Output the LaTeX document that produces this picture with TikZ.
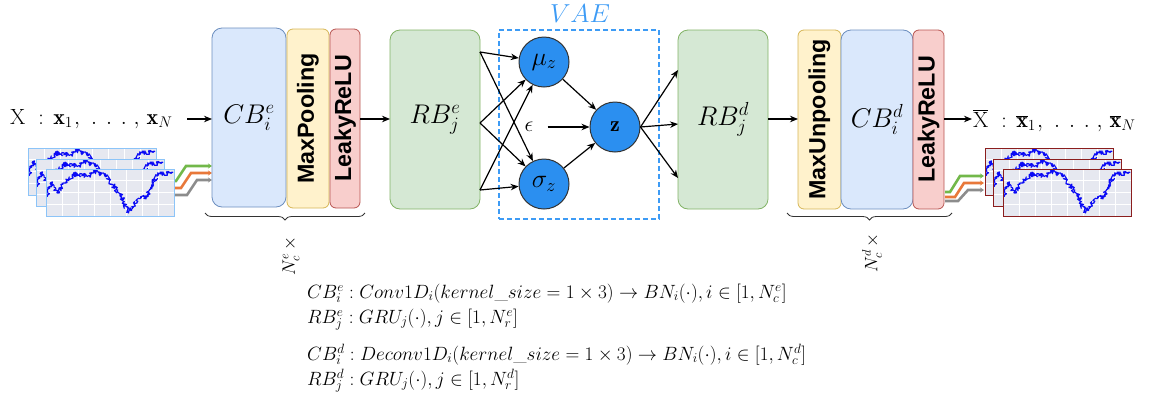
\RequirePackage{fix-cm}
\documentclass[tikz,border=0pt]{standalone}
\usepackage{fontspec}
\newfontfamily\arial{Liberation Sans}
\usetikzlibrary{arrows.meta,decorations.pathreplacing,decorations.pathmorphing,calc}
\definecolor{cbfill}{HTML}{DAE8FC}\definecolor{cbdraw}{HTML}{6C8EBF}
\definecolor{ylfill}{HTML}{FFF2CC}\definecolor{yldraw}{HTML}{D6B656}
\definecolor{rdfill}{HTML}{F8CECC}\definecolor{rddraw}{HTML}{B85450}
\definecolor{gnfill}{HTML}{D5E8D4}\definecolor{gndraw}{HTML}{82B366}
\definecolor{circfill}{HTML}{2B8FF0}\definecolor{circdraw}{HTML}{333333}
\definecolor{vaeblue}{HTML}{3D9BF5}
\definecolor{tsbg}{HTML}{E6E8F0}\definecolor{tsblue}{HTML}{0A0AF5}
\definecolor{lborder}{HTML}{8CC4F8}\definecolor{rborder}{HTML}{8B1E1E}
\definecolor{cgreen}{HTML}{72B84A}\definecolor{corange}{HTML}{E8783A}\definecolor{cgray}{HTML}{8C8C8C}
\newcommand{\seqlabel}[1]{#1{\mathrm{X}}\mkern10.6mu{:}\mkern7.7mu#1{\mathbf{x}}_1\mkern1mu{,}\mkern9mu.\mkern7.3mu.\mkern7.3mu.\mkern5.6mu{,}\mkern5.6mu#1{\mathbf{x}}_N}
\newcommand{\plainarg}[1]{#1}
\newcommand{\tsimg}[3]{%
 \begin{scope}[shift={(#1,#2)}]
   \fill[tsbg] (0,0) rectangle (128,47);
   \begin{scope}
   \clip (0,0) rectangle (128,47);
   \foreach \i in {16,32,...,112} \draw[white, line width=0.6pt] (\i,0) -- (\i,47);
   \foreach \j in {11.75,23.5,35.25} \draw[white, line width=0.6pt] (0,\j) -- (128,\j);
   \pgfmathsetseed{11}
   \draw[tsblue, line width=1.1pt, line join=round, decorate, decoration={random steps, segment length=0.8pt, amplitude=2.3pt}]
     (1.3,27.7) -- (5.1,14.1) -- (11.5,24.0) -- (20.5,10.8) -- (30.7,4.2) -- (41.0,7.5) -- (49.9,2.4) -- (60.2,7.5) -- (70.4,20.7) -- (75.5,27.7) -- (81.9,42.3) -- (87.0,37.6) -- (94.7,27.7) -- (101.1,27.7) -- (106.2,14.1) -- (111.4,5.6) -- (117.8,4.2) -- (126.7,3.8);
   \end{scope}
   \draw[#3, line width=0.9pt] (0,0) rectangle (128,47);
 \end{scope}}
\begin{document}
\begin{tikzpicture}[x=1pt,y=-1pt,
  arr/.style={-{Stealth[length=8pt,width=6.5pt]}, line width=1.2pt},
  blk/.style={draw, rounded corners=10pt, line width=0.8pt, inner sep=0pt, outer sep=0pt, minimum height=179pt},
  thin/.style={blk, rounded corners=6pt},
  vlabel/.style={rotate=90, font=\arial\bfseries\fontsize{23.3}{25}\selectfont},
  mlabel/.style={font=\fontsize{27}{30}\selectfont},
  circ/.style={circle, draw=circdraw, fill=circfill, line width=1pt, minimum size=50pt, inner sep=0pt},
  cline/.style={line width=2.6pt},
  tip/.style={-{Stealth[length=4pt,width=5pt]}},
  brc/.style={decorate, decoration={brace, amplitude=7pt, mirror}, draw=black!80, line width=0.8pt},
  formula/.style={anchor=base west, inner sep=0pt, font=\fontsize{19.2}{22}\selectfont}
]
\useasboundingbox (0,0) rectangle (1153,405);

% coloured feature lines
\draw[cline, cgray, tip] (173,195) -- (187,195) -- (197,180) -- (212,180);
\draw[cline, corange, tip] (173,188) -- (181,188) -- (191,173) -- (212,173);
\draw[cline, cgreen, tip] (173,181) -- (176,181) -- (186,166) -- (212,166);
\draw[cline, cgray, tip] (945,201) -- (958,201) -- (968,190) -- (984,190);
\draw[cline, corange, tip] (945,197) -- (955,197) -- (964,183) -- (984,183);
\draw[cline, cgreen, tip] (945,192) -- (950,192) -- (960,176) -- (984,176);

% input / output series
\tsimg{28}{148}{lborder}
\tsimg{36}{159}{lborder}
\tsimg{46}{169}{lborder}
\tsimg{985}{148}{rborder}
\tsimg{993}{159}{rborder}
\tsimg{1003}{169}{rborder}

% encoder blocks
\node[blk, fill=cbfill, draw=cbdraw, minimum width=74pt, mlabel] (cbe) at (249,117.5) {$CB_i^e$};
\node[thin, fill=ylfill, draw=yldraw, minimum width=42pt] (mp) at (308,118.5) {};
\node[vlabel] at (mp) {MaxPooling};
\node[thin, fill=rdfill, draw=rddraw, minimum width=30pt] (lre) at (345,118.5) {};
\node[vlabel] at (lre) {LeakyReLU};
\node[blk, fill=gnfill, draw=gndraw, minimum width=90pt, mlabel] (rbe) at (435,119.5) {$RB_j^e$};

% VAE
\node[draw=vaeblue, dashed, dash pattern=on 5pt off 3pt, line width=1.1pt, minimum width=160pt, minimum height=189pt, inner sep=0pt] (vae) at (579,124.5) {};
\node[text=vaeblue, font=\fontsize{26}{30}\selectfont] (vaelbl) at (580,14) {$VAE$};
\node[circ, font=\fontsize{26}{30}\selectfont] (mu) at (544,62) {$\mu_z$};
\node[circ, font=\fontsize{26}{30}\selectfont] (sig) at (544,184) {$\sigma_z$};
\node[circ, font=\fontsize{22}{26}\selectfont] (z) at (615,127) {$\mathbf{z}$};
\node[font=\fontsize{22}{26}\selectfont, inner sep=1pt] (eps) at (529,127) {$\epsilon$};

% decoder blocks
\node[blk, fill=gnfill, draw=gndraw, minimum width=90pt, mlabel] (rbd) at (723,119.5) {$RB_j^d$};
\node[thin, fill=ylfill, draw=yldraw, minimum width=43pt] (mup) at (819.5,119.5) {};
\node[vlabel] at (mup) {MaxUnpooling};
\node[blk, fill=cbfill, draw=cbdraw, minimum width=72pt, mlabel] (cbd) at (877,119.5) {$CB_i^d$};
\node[thin, fill=rdfill, draw=rddraw, minimum width=31pt] (lrd) at (928.5,119.5) {};
\node[vlabel] at (lrd) {LeakyReLU};

% input/output labels
\node[anchor=base west, inner sep=0pt, font=\fontsize{22}{26}\selectfont] (xin) at (10,124) {$\seqlabel{\plainarg}$};
\node[anchor=base west, inner sep=0pt, font=\fontsize{22}{26}\selectfont] (xout) at (973,127) {$\seqlabel{\overline}$};

% main arrows
\coordinate (xa) at (187,119);
\draw[arr] (xa) -- (xa -| cbe.west);
\coordinate (ea) at (360,119);
\draw[arr] (ea) -- (ea -| rbe.west);
\coordinate (da) at (768,119);
\draw[arr] (da) -- (da -| mup.west);
\coordinate (db) at (944,119);
\coordinate (xb) at (972,119);
\draw[arr] (db) -- (xb);

% RB^e -> mu, sigma
\coordinate (r1) at (480,52);
\coordinate (r2) at (480,123);
\coordinate (r3) at (480,190);
\foreach \r in {r1,r2,r3}{
  \draw[arr] (\r) -- (mu);
  \draw[arr] (\r) -- (sig);
}
\draw[arr] (mu) -- (z);
\draw[arr] (sig) -- (z);
\draw[arr, shorten <=13pt] (eps.east) -- (z.west);
\coordinate (d1) at (678,70);
\coordinate (d2) at (678,124);
\coordinate (d3) at (678,178);
\foreach \d in {d1,d2,d3} \draw[arr] (z.east) -- (\d);

% braces
\draw[brc] (205,213) -- (365,213);
\node[rotate=90, font=\fontsize{18}{21}\selectfont] (ne) at (291,256) {$N_c^e\,\times$};
\draw[brc] (787,213) -- (952,213);
\node[rotate=90, font=\fontsize{18}{21}\selectfont] (nd) at (872,253) {$N_c^d\,\times$};

% formulas
\node[formula] (f1) at (307,298) {$CB_i^e: Conv1D_i(kernel\_size=1\times 3)\rightarrow BN_i(\cdot), i\in[1,N_c^e]$};
\node[formula] (f2) at (307,323) {$RB_j^e: GRU_j(\cdot), j\in[1,N_r^e]$};
\node[formula] (f3) at (307,360) {$CB_i^d: Deconv1D_i(kernel\_size=1\times 3)\rightarrow BN_i(\cdot), i\in[1,N_c^d]$};
\node[formula] (f4) at (307,385) {$RB_j^d: GRU_j(\cdot), j\in[1,N_r^d]$};
\end{tikzpicture}
\end{document}
